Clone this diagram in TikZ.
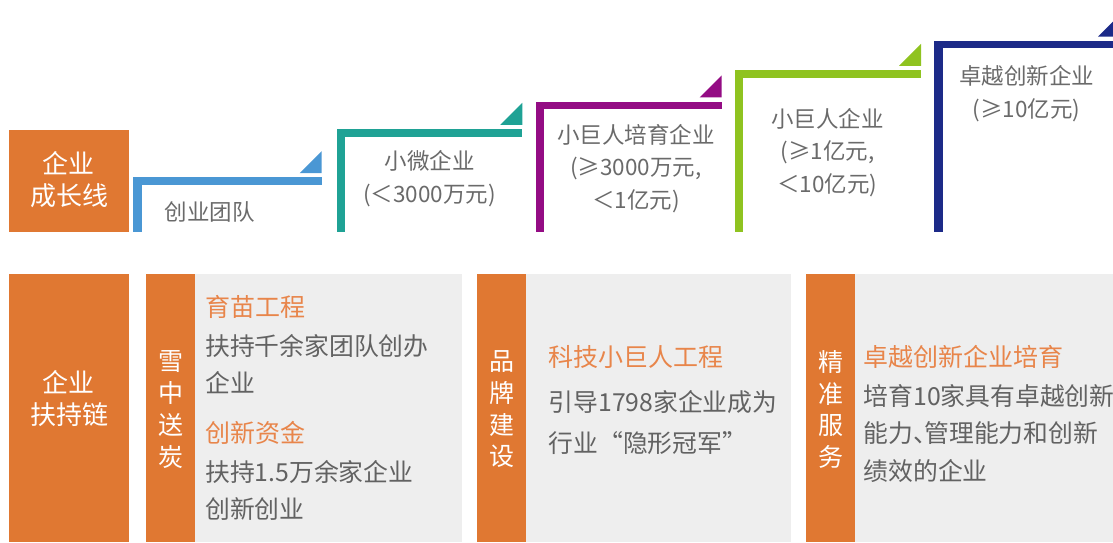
\documentclass[tikz,border=0pt]{standalone}
\usepackage{fontspec}
\setmainfont{Noto Sans CJK SC}
\definecolor{corange}{HTML}{E07832}
\definecolor{ctitle}{HTML}{E8854A}
\definecolor{cpanel}{HTML}{EEEEEE}
\definecolor{cblue}{HTML}{4A97D4}
\definecolor{cteal}{HTML}{1FA295}
\definecolor{cpurple}{HTML}{940C84}
\definecolor{cgreen}{HTML}{8FC320}
\definecolor{cnavy}{HTML}{1C2A88}
\definecolor{ctext}{HTML}{6A6A6A}
\definecolor{cbody}{HTML}{626262}
\begin{document}
\begin{tikzpicture}[x=1pt,y=-1pt,
  lab/.style={text=white,align=center,inner sep=0pt,font=\fontsize{26}{32}\selectfont},
  vert/.style={text=white,align=center,inner sep=0pt,font=\fontsize{25}{31.7}\selectfont},
  stage/.style={text=ctext,align=center,inner sep=0pt,font=\fontsize{22.5}{32.5}\selectfont},
  ttl/.style={text=ctitle,anchor=west,inner sep=0pt,font=\fontsize{25}{25}\selectfont},
  bodytxt/.style={text=cbody,anchor=west,inner sep=0pt,font=\fontsize{24.8}{24.8}\selectfont}]
\useasboundingbox (0,0) rectangle (1113,542);
% ---- top: growth line ----
\fill[corange] (9,130) rectangle (129,231.7);
\node[lab] (growth) at (69,180) {企业\\成长线};
\foreach \xl/\yt/\xr/\c in {133.3/177.3/321.7/cblue, 336.7/129/522.3/cteal, 535.7/101.5/721.7/cpurple, 735/70/921/cgreen, 934.3/40.7/1120/cnavy}{
  \fill[\c] (\xl,\yt) rectangle (\xl+8.2,231.7);
  \fill[\c] (\xl,\yt) rectangle (\xr,\yt+7.7);
  \fill[\c] (\xr-22,\yt-4.2) -- (\xr,\yt-26.2) -- (\xr,\yt-4.2) -- cycle;
}
\node[stage] (s1) at (209.5,211.5) {创业团队};
\node[stage] (s2) at (429.5,178.8) {小微企业\\(＜3000万元)};
\node[stage] (s3) at (636,168.3) {小巨人培育企业\\(≥3000万元,\\＜1亿元)};
\node[stage] (s4) at (827.5,152.5) {小巨人企业\\(≥1亿元,\\＜10亿元)};
\node[stage] (s5) at (1026.5,93.4) {卓越创新企业\\(≥10亿元)};
% ---- bottom: support chain ----
\fill[corange] (9,274) rectangle (129,542);
\node[lab] (support) at (69,399) {企业\\扶持链};
\fill[corange] (146,274) rectangle (195,542);
\fill[cpanel] (195,274) rectangle (461.7,542);
\fill[corange] (477,274) rectangle (526,542);
\fill[cpanel] (526,274) rectangle (791,542);
\fill[corange] (806,274) rectangle (855,542);
\fill[cpanel] (855,274) rectangle (1113,542);
\node[vert] (v1) at (170.5,409.5) {雪\\中\\送\\炭};
\node[vert] (v2) at (501.5,409.5) {品\\牌\\建\\设};
\node[vert] (v3) at (830.5,409.5) {精\\准\\服\\务};
% panel 1
\node[ttl] (p1t1) at (205,306.5) {育苗工程};
\node[bodytxt] (p1b1) at (205,346) {扶持千余家团队创办};
\node[bodytxt] (p1b2) at (205,382.5) {企业};
\node[ttl] (p1t2) at (205,433) {创新资金};
\node[bodytxt] (p1b3) at (205,471.5) {扶持1.5万余家企业};
\node[bodytxt] (p1b4) at (205,508.5) {创新创业};
% panel 2
\node[ttl] (p2t) at (548.5,357) {科技小巨人工程};
\node[bodytxt] (p2b1) at (548.5,402) {引导1798家企业成为};
\node[bodytxt] (p2b2) at (548.5,443) {行业“隐形冠军”};
% panel 3
\node[ttl] (p3t) at (863.5,357) {卓越创新企业培育};
\node[bodytxt] (p3b1) at (863.5,396) {培育10家具有卓越创新};
\node[bodytxt] (p3b2) at (863.5,433) {能力、\kern-0.55em 管理能力和创新};
\node[bodytxt] (p3b3) at (863.5,471) {绩效的企业};
\end{tikzpicture}
\end{document}
